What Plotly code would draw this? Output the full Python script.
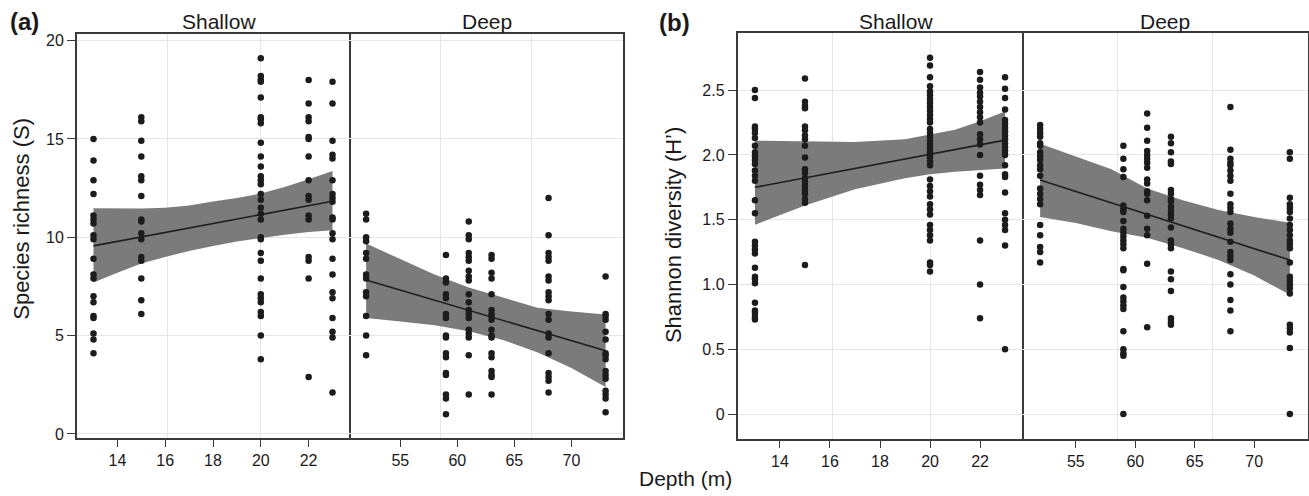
import plotly.graph_objects as go

FONT = "Liberation Sans, Arial, Helvetica, sans-serif"
W, H = 1309, 496

# ---------------- data ----------------
shallow_depths = [13, 15, 20, 22, 23]
deep_depths = [52, 59, 61, 63, 68, 73]

# (a) species richness
rich_shallow = [
    [15.0, 13.9, 12.9, 12.2, 11.1, 10.9, 10.7, 10.1, 9.9, 8.9, 8.1, 7.9, 7.0, 6.7, 6.0, 5.9, 5.1, 4.8, 4.1],
    [16.1, 15.9, 14.9, 14.1, 13.1, 12.9, 12.1, 10.9, 10.8, 10.2, 9.9, 9.0, 8.8, 7.9, 6.8, 6.1],
    [19.1, 18.2, 18.0, 17.9, 17.1, 16.1, 16.0, 15.8, 14.8, 14.1, 13.6, 13.1, 12.9, 12.7, 12.2, 11.9,
     11.5, 11.2, 10.9, 10.0, 9.9, 9.2, 8.8, 7.9, 7.1, 6.9, 6.7, 6.2, 6.0, 5.0, 3.8],
    [18.0, 16.8, 16.1, 15.9, 15.1, 15.0, 14.1, 12.9, 12.1, 11.9, 11.1, 10.9, 9.0, 8.8, 7.9, 2.9],
    [17.9, 16.8, 14.9, 14.2, 14.0, 12.9, 12.2, 12.0, 11.8, 11.0, 10.9, 10.2, 9.9, 8.9, 8.1, 7.2, 6.9,
     5.9, 5.2, 4.9, 2.1],
]
rich_deep = [
    [11.2, 10.9, 10.0, 9.8, 9.2, 8.9, 8.1, 7.9, 7.2, 7.0, 6.0, 5.0, 4.0],
    [9.1, 7.9, 7.7, 7.1, 6.9, 6.1, 5.9, 5.0, 4.9, 4.1, 3.9, 3.1, 3.0, 2.0, 1.8, 1.0],
    [10.8, 10.1, 9.9, 9.2, 9.0, 8.8, 8.3, 8.0, 7.8, 7.1, 6.7, 6.3, 6.1, 5.9, 5.3, 5.1, 4.9, 4.0, 2.0],
    [9.1, 8.9, 8.2, 7.9, 7.1, 6.3, 6.1, 6.0, 5.8, 5.3, 5.0, 4.9, 4.1, 3.9, 3.2, 3.0, 2.9, 2.0],
    [12.0, 10.1, 9.2, 9.0, 8.8, 8.0, 7.8, 7.2, 7.0, 6.8, 6.1, 5.8, 5.1, 4.9, 4.1, 3.1, 2.9, 2.7, 2.1],
    [8.0, 6.1, 6.0, 5.8, 5.2, 4.8, 4.1, 4.0, 3.8, 3.2, 3.0, 2.8, 2.2, 2.0, 1.8, 1.1],
]

# (b) Shannon diversity
shan_shallow = [
    [2.5, 2.44, 2.22, 2.2, 2.17, 2.13, 2.07, 2.02, 1.99, 1.96, 1.93, 1.88, 1.84, 1.8, 1.65, 1.55,
     1.33, 1.3, 1.27, 1.24, 1.13, 1.06, 1.04, 1.01, 0.86, 0.8, 0.78, 0.75, 0.73],
    [2.59, 2.41, 2.38, 2.36, 2.22, 2.19, 2.15, 2.12, 2.07, 1.98, 1.89, 1.86, 1.82, 1.79, 1.76, 1.73,
     1.7, 1.66, 1.63, 1.15],
    [2.75, 2.69, 2.6, 2.53, 2.49, 2.46, 2.43, 2.4, 2.37, 2.34, 2.31, 2.28, 2.25, 2.2, 2.17, 2.14,
     2.11, 2.08, 2.05, 2.02, 2.0, 1.98, 1.95, 1.92, 1.81, 1.76, 1.72, 1.68, 1.62, 1.58, 1.54, 1.46,
     1.42, 1.38, 1.34, 1.17, 1.15, 1.1],
    [2.64, 2.58, 2.52, 2.48, 2.45, 2.41, 2.37, 2.33, 2.29, 2.25, 2.16, 2.12, 2.08, 2.0, 1.84, 1.77,
     1.73, 1.69, 1.34, 1.0, 0.74],
    [2.6, 2.51, 2.44, 2.35, 2.27, 2.24, 2.21, 2.18, 2.15, 2.12, 2.09, 2.06, 2.03, 2.0, 1.92, 1.85,
     1.83, 1.71, 1.55, 1.5, 1.46, 1.42, 1.3, 0.5],
]
shan_deep = [
    [2.23, 2.2, 2.17, 2.14, 2.09, 2.07, 2.02, 1.99, 1.96, 1.92, 1.89, 1.84, 1.74, 1.7, 1.66, 1.62,
     1.46, 1.38, 1.29, 1.25, 1.17],
    [2.07, 1.97, 1.89, 1.83, 1.61, 1.58, 1.56, 1.49, 1.43, 1.4, 1.37, 1.34, 1.31, 1.28, 1.12, 1.11,
     0.98, 0.9, 0.87, 0.84, 0.81, 0.64, 0.5, 0.47, 0.45, 0.0],
    [2.32, 2.21, 2.11, 2.03, 2.0, 1.97, 1.94, 1.9, 1.81, 1.78, 1.72, 1.7, 1.65, 1.53, 1.43, 1.38,
     1.16, 0.67],
    [2.14, 2.09, 2.02, 1.95, 1.93, 1.73, 1.7, 1.66, 1.64, 1.6, 1.57, 1.54, 1.51, 1.44, 1.34, 1.31,
     1.28, 1.1, 1.04, 0.95, 0.74, 0.71, 0.69],
    [2.37, 2.04, 1.97, 1.94, 1.92, 1.88, 1.84, 1.8, 1.7, 1.62, 1.59, 1.56, 1.47, 1.43, 1.4, 1.33,
     1.25, 1.22, 1.19, 1.08, 1.0, 0.88, 0.8, 0.64],
    [2.02, 1.97, 1.67, 1.62, 1.59, 1.56, 1.51, 1.46, 1.42, 1.38, 1.34, 1.31, 1.28, 1.17, 1.06, 1.03,
     1.0, 0.97, 0.93, 0.69, 0.66, 0.63, 0.51, 0.0],
]

# fitted lines and confidence bands
fit_x_shallow = [13, 14, 15, 16, 17, 18, 19, 20, 21, 22, 23]
rich_fit_shallow = [9.56, 9.79, 10.01, 10.24, 10.47, 10.70, 10.92, 11.15, 11.38, 11.60, 11.83]
rich_hi_shallow = [11.47, 11.46, 11.46, 11.50, 11.62, 11.82, 12.00, 12.22, 12.55, 12.95, 13.37]
rich_lo_shallow = [7.70, 8.20, 8.67, 9.00, 9.30, 9.55, 9.78, 9.97, 10.13, 10.26, 10.35]

fit_x_deep = [52, 55, 58, 61, 64, 67, 70, 73]
rich_fit_deep = [7.83, 7.32, 6.80, 6.29, 5.77, 5.26, 4.74, 4.23]
rich_hi_deep = [9.68, 8.90, 8.10, 7.45, 6.95, 6.42, 6.22, 6.07]
rich_lo_deep = [5.90, 5.72, 5.52, 5.22, 4.78, 4.15, 3.35, 2.38]

fit_x_shallow_b = [13, 15, 17, 19, 20, 21, 22, 23]
shan_fit_shallow = [1.750, 1.823, 1.896, 1.969, 2.005, 2.041, 2.078, 2.114]
shan_hi_shallow = [2.110, 2.105, 2.100, 2.120, 2.155, 2.195, 2.260, 2.335]
shan_lo_shallow = [1.462, 1.610, 1.735, 1.820, 1.850, 1.870, 1.884, 1.895]

shan_fit_deep = [1.806, 1.718, 1.630, 1.542, 1.454, 1.365, 1.277, 1.189]
shan_hi_deep = [2.086, 1.990, 1.890, 1.740, 1.650, 1.575, 1.520, 1.477]
shan_lo_deep = [1.520, 1.475, 1.410, 1.360, 1.280, 1.190, 1.070, 0.920]

shallow_ticks = [14, 16, 18, 20, 22]
deep_ticks = [55, 60, 65, 70]
shallow_grid = [16.1, 20]
deep_grid = [58.5, 66.5]
rich_ticks = [0, 5, 10, 15, 20]
shan_ticks = [0, 0.5, 1.0, 1.5, 2.0, 2.5]
shan_ticktext = ["0", "0.5", "1.0", "1.5", "2.0", "2.5"]

# ---------------- styling ----------------
FRAME = "#3a3a3a"
GRID = "#e6e6e6"
DOT = "#1c1c1c"
BAND = "#7b7b7b"
TXT = "#1a1a1a"

fig = go.Figure()


def add_panel(xa, ya, depths, values, fx, fit, hi, lo):
    fig.add_trace(go.Scatter(
        x=list(fx) + list(fx)[::-1], y=list(hi) + list(lo)[::-1],
        fill="toself", fillcolor=BAND, line=dict(width=0), mode="lines",
        xaxis=xa, yaxis=ya, hoverinfo="skip", showlegend=False))
    fig.add_trace(go.Scatter(
        x=fx, y=fit, mode="lines", line=dict(color="#1e1e1e", width=1.6),
        xaxis=xa, yaxis=ya, showlegend=False))
    xs, ys = [], []
    for d, col in zip(depths, values):
        xs += [d] * len(col)
        ys += col
    fig.add_trace(go.Scatter(
        x=xs, y=ys, mode="markers",
        marker=dict(color=DOT, size=6.5, line=dict(width=0)),
        xaxis=xa, yaxis=ya, showlegend=False))


add_panel("x", "y", shallow_depths, rich_shallow, fit_x_shallow,
          rich_fit_shallow, rich_hi_shallow, rich_lo_shallow)
add_panel("x2", "y2", deep_depths, rich_deep, fit_x_deep,
          rich_fit_deep, rich_hi_deep, rich_lo_deep)
add_panel("x3", "y3", shallow_depths, shan_shallow, fit_x_shallow_b,
          shan_fit_shallow, shan_hi_shallow, shan_lo_shallow)
add_panel("x4", "y4", deep_depths, shan_deep, fit_x_deep,
          shan_fit_deep, shan_hi_deep, shan_lo_deep)

tickfont = dict(family=FONT, size=16, color=TXT)


def xax(domain, rng, ticks, grid, anchor):
    return dict(domain=domain, range=rng, anchor=anchor, tickmode="array",
                tickvals=ticks, ticks="outside", ticklen=7, tickwidth=1.3,
                tickcolor=FRAME, showline=True, linecolor=FRAME, linewidth=1.8,
                mirror=True, showgrid=False, zeroline=False, tickfont=tickfont,
                minor=dict(tickmode="array", tickvals=grid, showgrid=True,
                           gridcolor=GRID, gridwidth=1.2, ticks=""),
                fixedrange=True)


def yax(domain, rng, ticks, anchor, labels=True, text=None):
    d = dict(domain=domain, range=rng, anchor=anchor, tickmode="array",
             tickvals=ticks, showline=True, linecolor=FRAME, linewidth=1.8,
             showgrid=True, gridcolor=GRID, gridwidth=1.2,
             zeroline=False, tickfont=tickfont, fixedrange=True)
    if labels:
        d.update(ticks="outside", ticklen=8, tickwidth=1.3, tickcolor=FRAME,
                 mirror=True)
        if text:
            d["ticktext"] = text
    else:
        # deep panel: only the right-hand frame line (divider comes from shallow)
        d.update(ticks="", showticklabels=False, side="right", mirror=False)
    return d


ya_dom = [1 - 441.7 / H, 1 - 33 / H]
yb_dom = [1 - 442.3 / H, 1 - 32.3 / H]

fig.update_layout(
    width=W, height=H, margin=dict(l=0, r=0, t=0, b=0),
    paper_bgcolor="white", plot_bgcolor="white",
    font=dict(family=FONT, color=TXT),
    xaxis=xax([77 / W, 349 / W], [12.31, 23.69], shallow_ticks, shallow_grid, "y"),
    xaxis2=xax([349 / W, 622.7 / W], [50.5, 74.5], deep_ticks, deep_grid, "y2"),
    xaxis3=xax([737.7 / W, 1022.3 / W], [12.31, 23.69], shallow_ticks, shallow_grid, "y3"),
    xaxis4=xax([1022.3 / W, 1307.7 / W], [50.5, 74.5], deep_ticks, deep_grid, "y4"),
    yaxis=yax(ya_dom, [-0.22, 20.35], rich_ticks, "x"),
    yaxis2=yax(ya_dom, [-0.22, 20.35], rich_ticks, "x2", labels=False),
    yaxis3=yax(yb_dom, [-0.191, 2.941], shan_ticks, "x3", text=shan_ticktext),
    yaxis4=yax(yb_dom, [-0.191, 2.941], shan_ticks, "x4", labels=False),
)


def ann(text, x, y, size, bold=False, angle=0):
    fig.add_annotation(text=f"<b>{text}</b>" if bold else text,
                       x=x / W, y=1 - y / H, xref="paper", yref="paper",
                       xanchor="center", yanchor="middle", showarrow=False,
                       textangle=angle, font=dict(family=FONT, size=size, color=TXT))


ann("(a)", 24.5, 21, 24, bold=True)
ann("(b)", 674, 22, 24, bold=True)
ann("Shallow", 219, 20.5, 21)
ann("Deep", 486.7, 20.5, 21)
ann("Shallow", 896, 20.5, 21)
ann("Deep", 1164.7, 20.5, 21)
ann("Species richness (S)", 21.5, 220.5, 22, angle=-90)
ann("Shannon diversity (H’)", 673, 236.5, 22, angle=-90)
ann("Depth (m)", 685, 482, 21)

fig.write_html("out.html")
